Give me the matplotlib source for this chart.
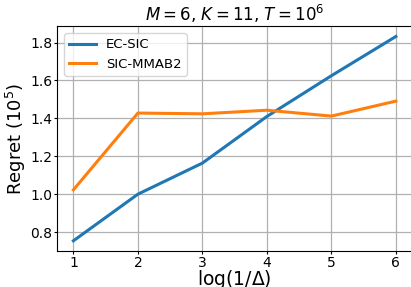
import matplotlib
matplotlib.use("Agg")
import matplotlib.pyplot as plt

x = [1, 2, 3, 4, 5, 6]
ec_sic = [0.754, 1.0, 1.164, 1.41, 1.625, 1.832]
sic_mmab2 = [1.023, 1.428, 1.424, 1.443, 1.412, 1.491]

fig = plt.figure(figsize=(4.11, 2.87), dpi=100)
ax = fig.add_axes([0.1394, 0.1254, 0.863, 0.783])
ax.plot(x, ec_sic, color="#1f77b4", lw=2.2, label="EC-SIC")
ax.plot(x, sic_mmab2, color="#ff7f0e", lw=2.2, label="SIC-MMAB2")
ax.grid(True, color="#b0b0b0", lw=0.9)
ax.set_xticks(x)
ax.set_yticks([0.8, 1.0, 1.2, 1.4, 1.6, 1.8])
ax.tick_params(labelsize=10, pad=1, length=2.5)
ax.set_xlabel(r"log(1/$\Delta$)", fontsize=13.5, labelpad=-1)
ax.set_ylabel(r"Regret ($10^5$)", fontsize=13, labelpad=2)
ax.set_title(r"$M=6$, $K=11$, $T=10^6$", fontsize=12, pad=4)
ax.legend(loc="upper left", fontsize=9.5)
fig.savefig("out.png", dpi=100)
